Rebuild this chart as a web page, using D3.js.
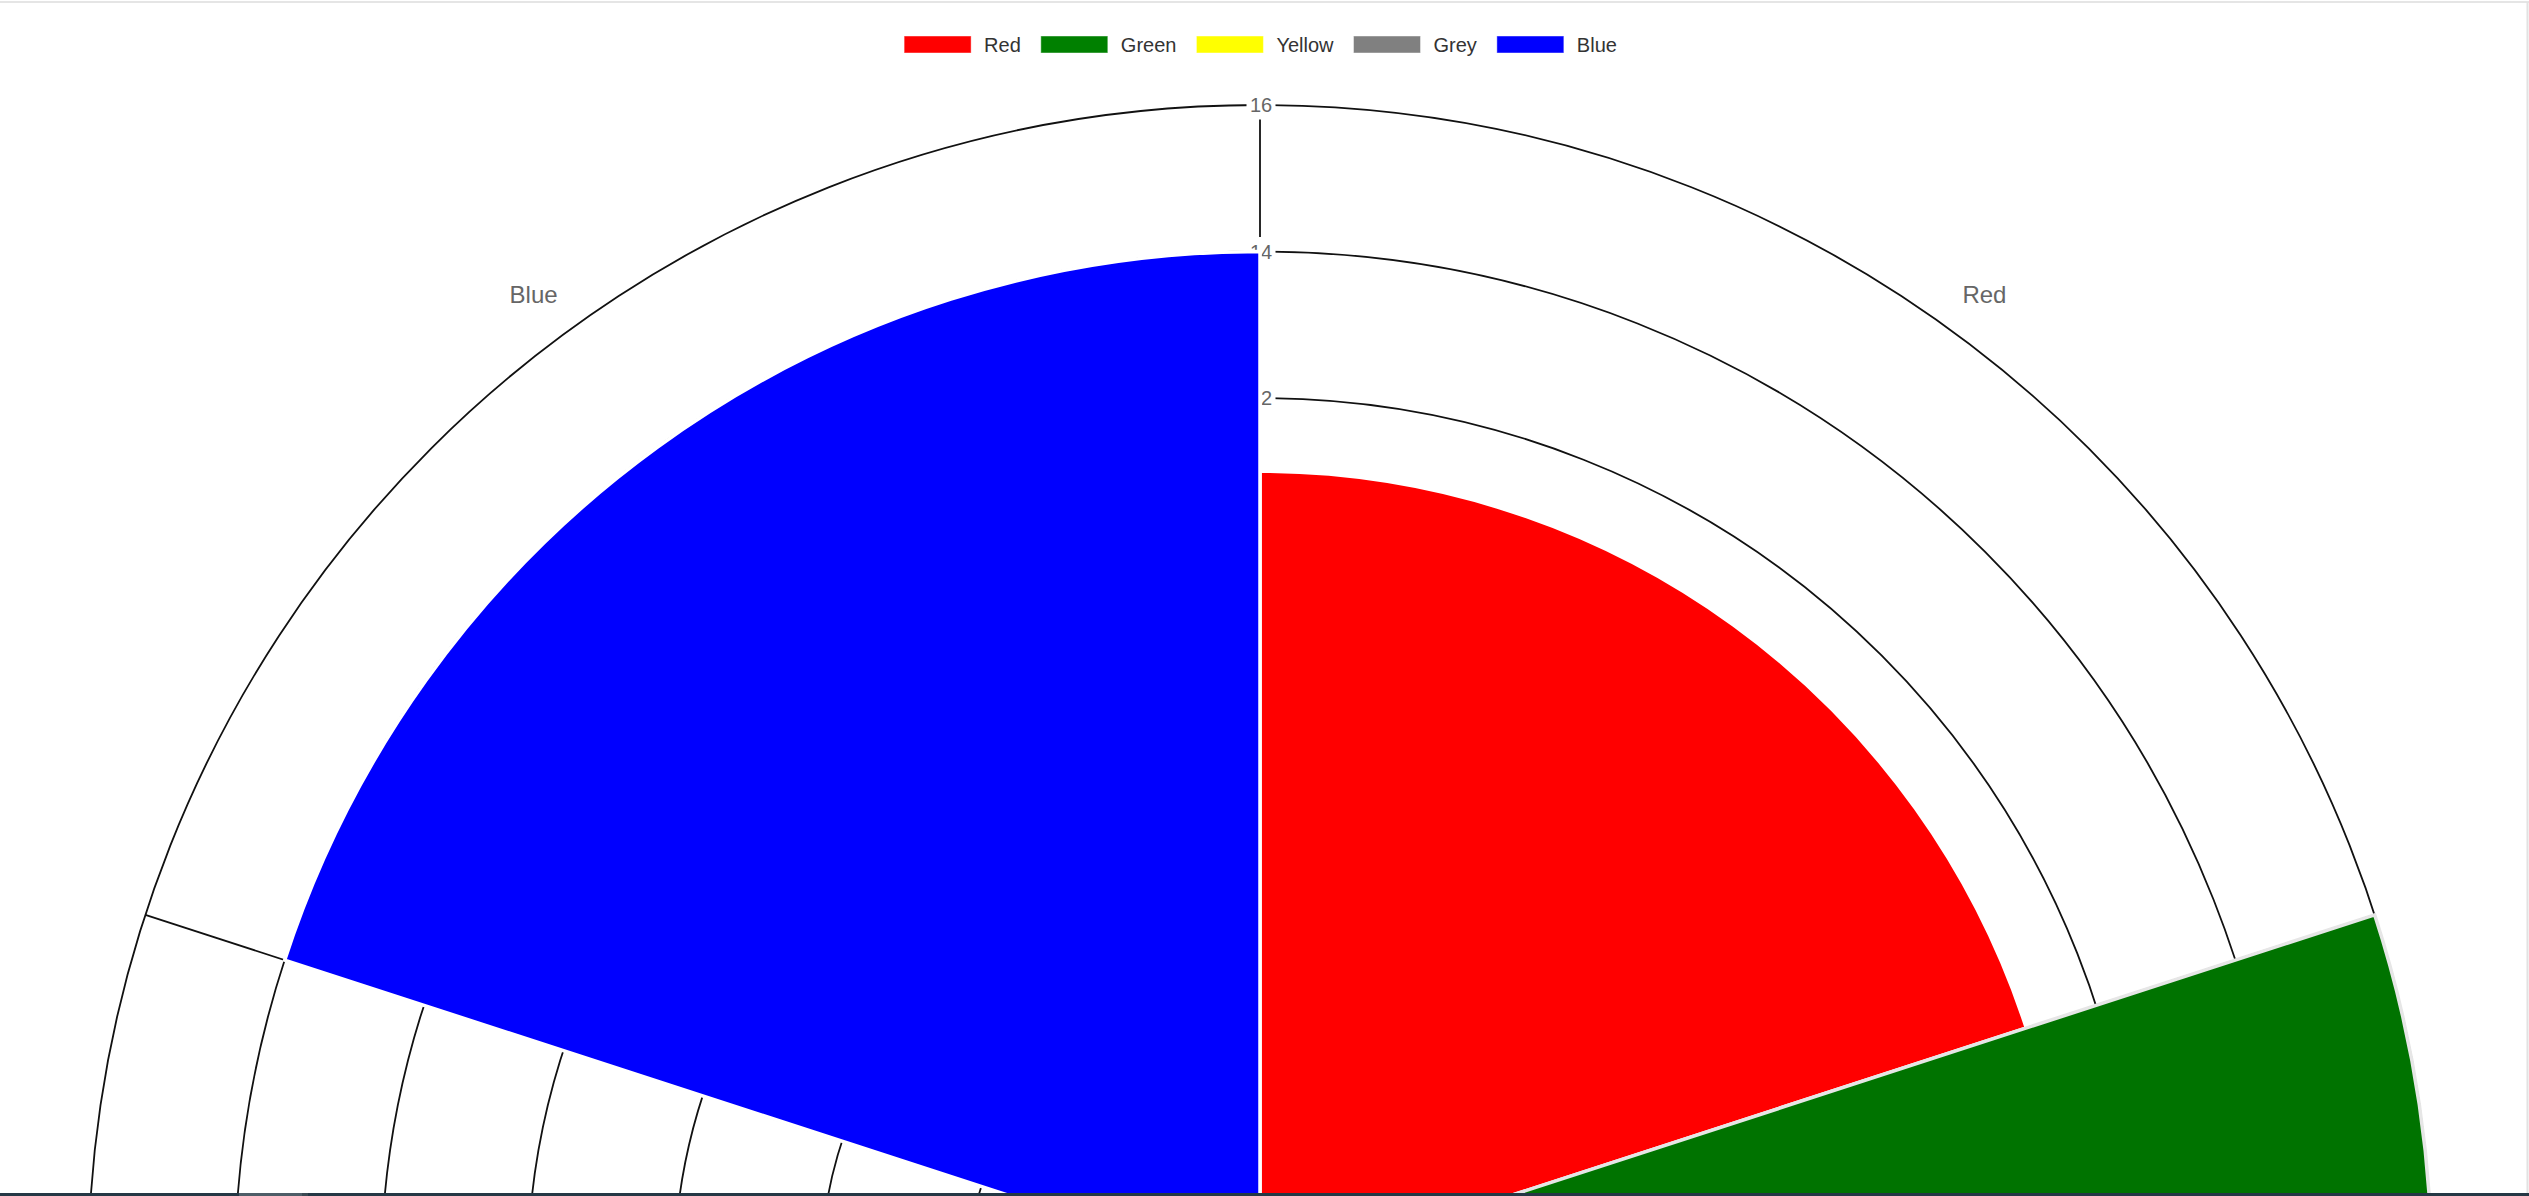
<!DOCTYPE html>
<html>
<head>
<meta charset="utf-8">
<script src="https://cdnjs.cloudflare.com/ajax/libs/d3/7.8.5/d3.min.js"></script>
<style>
  html, body { margin: 0; padding: 0; background: #fff; overflow: hidden; }
  svg { display: block; font-family: "Liberation Sans", Arial, sans-serif; }
</style>
</head>
<body>
<svg id="chart" width="2529" height="1196"></svg>
<script>
// chart data
var labels = ["Red", "Green", "Yellow", "Grey", "Blue"];
var values = [11, 16, 7, 3, 14];
var colors = ["#ff0000", "#008000", "#ffff00", "#808080", "#0000ff"];
var tickValues = [2, 4, 6, 8, 10, 12, 14, 16];
var tickLabels = ["2", "4", "6", "8", "10", "12", "14", "16"];
var hovered = "Green";

var W = 2529, H = 1196;
var cx = 1260, cy = 1277;   // centre sits below the bottom edge, chart is cut off
var outerR = 1172;

var svg = d3.select("#chart");

// page border
svg.append("line").attr("x1", 0).attr("x2", W).attr("y1", 2).attr("y2", 2)
  .attr("stroke", "#dcdcdc").attr("stroke-width", 1.5);
svg.append("line").attr("x1", W - 1.5).attr("x2", W - 1.5).attr("y1", 2).attr("y2", H)
  .attr("stroke", "#e2e2e2").attr("stroke-width", 2);

var r = d3.scaleLinear().domain([0, d3.max(tickValues)]).range([0, outerR]);

var pie = d3.pie().value(function () { return 1; }).sort(null);
var arcs = pie(labels.map(function (l, i) { return { label: l, value: values[i], color: colors[i] }; }));

var g = svg.append("g").attr("transform", "translate(" + cx + "," + cy + ")");

// rings
g.selectAll("circle.ring").data(tickValues).enter().append("circle")
  .attr("class", "ring")
  .attr("r", function (d) { return r(d); })
  .attr("fill", "none")
  .attr("stroke", "#111")
  .attr("stroke-width", 1.8);

// angle lines
g.selectAll("line.angle").data(arcs).enter().append("line")
  .attr("class", "angle")
  .attr("x1", 0).attr("y1", 0)
  .attr("x2", function (d) { return r(d3.max(tickValues)) * Math.sin(d.startAngle); })
  .attr("y2", function (d) { return -r(d3.max(tickValues)) * Math.cos(d.startAngle); })
  .attr("stroke", "#111")
  .attr("stroke-width", 1.8);

// tick labels with backdrop (drawn under the slices, like the original)
var ticks = g.selectAll("g.tick").data(tickValues).enter().append("g")
  .attr("class", "tick")
  .attr("transform", function (d) { return "translate(1," + (-r(d)) + ")"; });
ticks.append("rect")
  .attr("x", -14.5).attr("y", -14.5).attr("width", 29).attr("height", 29)
  .attr("fill", "#fff");
ticks.append("text")
  .attr("text-anchor", "middle")
  .attr("y", 7.3)
  .attr("font-size", 20)
  .attr("fill", "#666")
  .text(function (d, i) { return tickLabels[i]; });

// point labels, only the ones that land inside the visible area
var labelR = outerR + 23;
function mid(d) { return (d.startAngle + d.endAngle) / 2; }
var shown = arcs.filter(function (d) { return cy - labelR * Math.cos(mid(d)) < H - 30; });
g.selectAll("text.plabel").data(shown).enter().append("text")
  .attr("class", "plabel")
  .attr("x", function (d) { return labelR * Math.sin(mid(d)); })
  .attr("y", function (d) { return -labelR * Math.cos(mid(d)) - 7.5; })
  .attr("text-anchor", function (d) {
    var s = Math.sin(mid(d));
    return s > 0.01 ? "start" : (s < -0.01 ? "end" : "middle");
  })
  .attr("font-size", 24)
  .attr("fill", "#666")
  .text(function (d) { return d.data.label; });

// slices
var arc = d3.arc().innerRadius(0).outerRadius(function (d) { return r(d.data.value); });
g.selectAll("path.slice").data(arcs).enter().append("path")
  .attr("class", "slice")
  .attr("d", arc)
  .attr("fill", function (d) {
    if (d.data.label === hovered) {
      var c = d3.hsl(d.data.color);
      c.l = c.l * 0.9;
      return c.toString();
    }
    return d.data.color;
  })
  .attr("stroke", function (d) { return d.data.label === hovered ? "#e6e6e6" : "#fff"; })
  .attr("stroke-width", 3.5)
  .attr("stroke-linejoin", "miter");

// legend
var legend = svg.append("g").attr("class", "legend");
var boxW = 67, boxH = 17, textGap = 13, itemGap = 20, fontSize = 20;
var measure = svg.append("text").attr("font-size", fontSize).attr("visibility", "hidden");
var widths = labels.map(function (l) { measure.text(l); return measure.node().getComputedTextLength(); });
measure.remove();
var total = d3.sum(widths) + labels.length * (boxW + textGap) + (labels.length - 1) * itemGap;
var lx = cx - total / 2 + 0.5;
labels.forEach(function (l, i) {
  var item = legend.append("g").attr("transform", "translate(" + lx + ",36)");
  item.append("rect")
    .attr("width", boxW).attr("height", boxH)
    .attr("fill", colors[i])
    .attr("stroke", "rgba(255,255,255,0.45)")
    .attr("stroke-width", 1);
  item.append("text")
    .attr("x", boxW + textGap)
    .attr("y", 16.3)
    .attr("font-size", fontSize)
    .attr("fill", "#333")
    .text(l);
  lx += boxW + textGap + widths[i] + itemGap;
});

// bottom bar of the page
svg.append("rect").attr("x", 0).attr("y", 1193).attr("width", W).attr("height", 3).attr("fill", "#253845");
svg.append("rect").attr("x", 239).attr("y", 1193).attr("width", 63).attr("height", 3).attr("fill", "#4e5d67");
svg.append("rect").attr("x", 302).attr("y", 1193).attr("width", 6).attr("height", 3).attr("fill", "#3a4952");
</script>
</body>
</html>
